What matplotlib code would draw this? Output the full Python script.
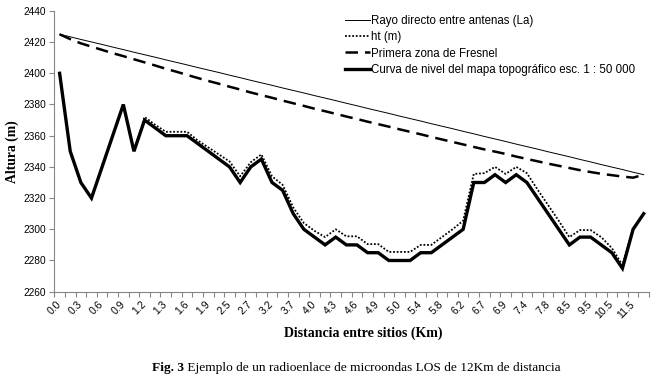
import numpy as np
import matplotlib
matplotlib.use("Agg")
import matplotlib.pyplot as plt

# ---- data ----
dist_labels = ["0.0", "0.3", "0.6", "0.9", "1.2", "1.3", "1.6", "1.9", "2.5", "2.7",
               "3.2", "3.7", "4.0", "4.3", "4.6", "4.9", "5.0", "5.4", "5.8", "6.2",
               "6.7", "6.9", "7.4", "7.8", "8.5", "9.5", "10.5", "11.5"]

rayo_la = [2425.0, 2423.4, 2421.7, 2420.1, 2418.5, 2416.8, 2415.2, 2413.5, 2411.9, 2410.3,
           2408.6, 2407.0, 2405.4, 2403.7, 2402.1, 2400.5, 2398.8, 2397.2, 2395.5, 2393.9,
           2392.3, 2390.6, 2389.0, 2387.4, 2385.7, 2384.1, 2382.5, 2380.8, 2379.2, 2377.5,
           2375.9, 2374.3, 2372.6, 2371.0, 2369.4, 2367.7, 2366.1, 2364.5, 2362.8, 2361.2,
           2359.5, 2357.9, 2356.3, 2354.6, 2353.0, 2351.4, 2349.7, 2348.1, 2346.5, 2344.8,
           2343.2, 2341.5, 2339.9, 2338.3, 2336.6, 2335.0]

ht = [2400, 2350, 2330, 2320, 2340, 2360, 2380, 2350, 2372, 2367,
      2362.5, 2362.5, 2362.5, 2357, 2352.5, 2348, 2343.5, 2334, 2343, 2348,
      2334, 2328.5, 2314, 2304, 2299, 2295, 2300, 2295.5, 2295.5, 2290.5,
      2290.5, 2285.5, 2285.5, 2285.5, 2290, 2290, 2295, 2300, 2305.5, 2335.5,
      2336, 2340, 2335.5, 2340, 2336, 2325.5, 2315.5, 2305.5, 2295, 2299.5,
      2299.5, 2295, 2288, 2277, 2300, 2310]

fresnel = [2425.0, 2421.9, 2419.2, 2417.1, 2415.0, 2412.9, 2411.0, 2409.0, 2407.0, 2405.0,
           2402.9, 2401.0, 2399.0, 2397.0, 2395.1, 2393.3, 2391.4, 2389.6, 2387.7, 2386.0,
           2384.3, 2382.5, 2380.8, 2379.1, 2377.3, 2375.7, 2374.0, 2372.3, 2370.7, 2369.0,
           2367.4, 2365.8, 2364.1, 2362.5, 2360.9, 2359.2, 2357.6, 2356.0, 2354.4, 2352.8,
           2351.2, 2349.8, 2348.3, 2346.6, 2345.1, 2343.6, 2342.1, 2340.7, 2339.3, 2337.9,
           2336.7, 2335.6, 2334.7, 2333.8, 2333.1, 2335.0]

terreno = [2400, 2350, 2330, 2320, 2340, 2360, 2380, 2350, 2370, 2365,
           2360, 2360, 2360, 2355, 2350, 2345, 2340, 2330, 2340, 2345,
           2330, 2325, 2310, 2300, 2295, 2290, 2295, 2290, 2290, 2285,
           2285, 2280, 2280, 2280, 2285, 2285, 2290, 2295, 2300, 2330,
           2330, 2335, 2330, 2335, 2330, 2320, 2310, 2300, 2290, 2295,
           2295, 2290, 2285, 2275, 2300, 2310]

series_names = ["Rayo directo entre antenas (La)", "ht (m)", "Primera zona de Fresnel",
                "Curva de nivel del mapa topográfico esc. 1 : 50 000"]

W, H = 657, 384
fig = plt.figure(figsize=(W / 100, H / 100), dpi=100)
ax = fig.add_axes([54.3 / W, 1 - 291.7 / H, (649 - 54.3) / W, (291.7 - 10.9) / H])

x = np.arange(len(terreno))
sans = "Liberation Sans"
serif = "Liberation Serif"

ax.plot(x, rayo_la, color="black", lw=0.7, label=series_names[0])
ax.plot(x, ht, color="black", lw=1.3, linestyle=(0, (1, 1)), label=series_names[1])
ax.plot(x, fresnel, color="black", lw=1.8, linestyle=(0, (5, 2.8)), label=series_names[2])
ax.plot(x, terreno, color="black", lw=2.4, solid_joinstyle="miter", label=series_names[3])

ax.set_xlim(-0.5, len(terreno) - 0.5)
ax.set_ylim(2260, 2440)
ax.set_yticks(np.arange(2260, 2441, 20))

for s in ["top", "right"]:
    ax.spines[s].set_visible(False)
for s in ["left", "bottom"]:
    ax.spines[s].set_color("#868686")
    ax.spines[s].set_linewidth(0.8)

ax.tick_params(axis="y", direction="out", length=3.5, width=0.8, color="#868686",
               labelsize=7.3, pad=2.5)
for lbl in ax.get_yticklabels():
    lbl.set_fontfamily(sans)

# category boundaries as tick marks, labels every second category
ax.set_xticks(np.arange(-0.5, len(terreno), 1.0))
ax.set_xticklabels([])
ax.tick_params(axis="x", which="major", direction="out", length=3.5, width=0.8,
               color="#868686")
label_pos = np.arange(0, len(terreno), 2)[:len(dist_labels)]
ax.set_xticks(label_pos, minor=True)
ax.set_xticklabels(dist_labels, minor=True, rotation=45, ha="right", va="center",
                   rotation_mode="anchor", fontsize=7.5, fontfamily=sans)
ax.tick_params(axis="x", which="minor", length=0, pad=8)

ax.set_xlabel("Distancia entre sitios (Km)", fontfamily=serif, fontweight="bold",
              fontsize=10, va="center")
ax.xaxis.set_label_coords((363.5 - 54.3) / (649 - 54.3), -(333 - 291.7) / (291.7 - 10.9))
ax.set_ylabel("Altura (m)", fontfamily=serif, fontweight="bold", fontsize=9.8, va="center")
ax.yaxis.set_label_coords(-(54.3 - 12.5) / (649 - 54.3), 0.5)

leg = ax.legend(loc="upper left", bbox_to_anchor=(345 / W, 1 - 15 / H),
                bbox_transform=fig.transFigure, frameon=False,
                prop={"family": sans, "size": 8.3}, handlelength=2.17,
                handletextpad=0.05, labelspacing=0.37, borderpad=0, borderaxespad=0)

t1 = fig.text(152 / W, 1 - 371 / H, "Fig. 3", fontfamily=serif, fontweight="bold",
              fontsize=9.6, ha="left", va="baseline")
ax.annotate(" Ejemplo de un radioenlace de microondas LOS de 12Km de distancia",
            xy=(1, 0), xycoords=t1, ha="left", va="bottom",
            fontfamily=serif, fontsize=9.6, annotation_clip=False)

fig.savefig("out.png", dpi=100)
